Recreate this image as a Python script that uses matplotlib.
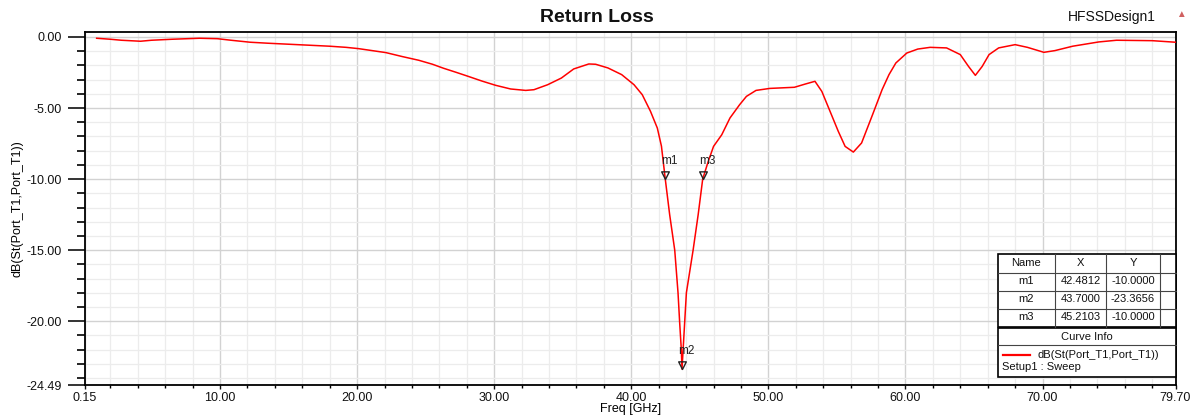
import numpy as np
import matplotlib
matplotlib.use('Agg')
import matplotlib.pyplot as plt
from matplotlib.path import Path
from matplotlib.patches import Rectangle
from matplotlib.lines import Line2D

plt.rcParams['font.family'] = ['Liberation Sans', 'DejaVu Sans']

# S11 (GHz, dB)
freq = [1.0, 2.0, 2.8, 4.2, 5.0, 6.5, 8.5, 9.8, 10.8, 12.2, 13.5, 15.0, 16.5, 18.0,
        19.2, 20.1, 21.1, 22.1, 23.3, 24.5, 25.5, 26.3, 27.2, 28.1, 29.1, 30.1, 31.2,
        32.3, 32.9, 33.9, 34.9, 35.8, 36.9, 37.4, 38.3, 39.3, 40.2, 40.8, 41.4, 41.9,
        42.2, 42.48, 42.8, 43.17, 43.41, 43.53, 43.65, 43.7, 43.9, 44.02, 44.51, 44.88,
        45.21, 45.6, 46.0, 46.6, 47.2, 47.9, 48.4, 49.1, 50.1, 51.0, 51.9, 52.7, 53.4,
        53.9, 54.4, 55.1, 55.6, 56.2, 56.8, 57.6, 58.3, 58.8, 59.3, 60.1, 60.9, 61.8,
        63.0, 64.0, 64.6, 65.1, 65.6, 66.1, 66.8, 68.0, 68.9, 70.1, 70.9, 72.2, 74.1,
        75.4, 78.0, 79.7]
s11 = [-0.09, -0.16, -0.23, -0.30, -0.23, -0.16, -0.09, -0.12, -0.23, -0.37, -0.44,
       -0.51, -0.58, -0.65, -0.73, -0.82, -0.96, -1.10, -1.38, -1.64, -1.92, -2.20,
       -2.48, -2.77, -3.10, -3.40, -3.66, -3.76, -3.71, -3.36, -2.89, -2.25, -1.90,
       -1.92, -2.18, -2.65, -3.36, -4.06, -5.23, -6.41, -7.68, -10.0, -12.5, -15.0,
       -18.0, -20.1, -22.0, -23.37, -20.0, -18.0, -15.0, -12.5, -10.0, -8.8, -7.7,
       -6.88, -5.70, -4.77, -4.18, -3.76, -3.62, -3.58, -3.54, -3.31, -3.12, -3.83,
       -5.00, -6.64, -7.70, -8.10, -7.46, -5.47, -3.70, -2.65, -1.83, -1.13, -0.85,
       -0.73, -0.77, -1.24, -2.07, -2.70, -2.07, -1.24, -0.77, -0.54, -0.73, -1.08,
       -0.96, -0.65, -0.35, -0.23, -0.26, -0.37]

marker_names = ['m1', 'm2', 'm3']
marker_x = [42.4812, 43.7000, 45.2103]
marker_y = [-10.0, -23.3656, -10.0]

xticks = [0.15, 10, 20, 30, 40, 50, 60, 70, 79.70]
yticks = [0.0, -5.0, -10.0, -15.0, -20.0, -24.49]

W, H = 1198, 416
fig = plt.figure(figsize=(W / 100, H / 100), dpi=100)
ax = fig.add_axes([85 / W, 1 - 385 / H, (1175.5 - 85) / W, (385 - 32) / H])


def P(x, y):
    return x / W, 1 - y / H


ax.plot(freq, s11, color='#ff0000', lw=1.1, zorder=3)

# hollow down-triangles with the apex on the point
tri = Path([(-0.5, 1.0), (0.5, 1.0), (0.0, 0.0), (-0.5, 1.0)],
           [Path.MOVETO, Path.LINETO, Path.LINETO, Path.CLOSEPOLY])
ax.plot(marker_x, marker_y, ls='none', marker=tri, ms=11, mfc='none',
        mec='#222222', mew=1.0, zorder=4)
for name, mx, my in zip(marker_names, marker_x, marker_y):
    ax.annotate(name, (mx, my), xytext=(3, 9), textcoords='offset points',
                ha='center', va='bottom', fontsize=8.5, color='#222222', zorder=5)

ax.set_xlim(0.15, 79.70)
ax.set_ylim(-24.49, 0.35)
ax.set_xticks(xticks)
ax.set_xticklabels(['%.2f' % v for v in xticks])
ax.set_xticks([v for v in range(2, 80, 2) if v % 10], minor=True)
ax.set_yticks(yticks)
ax.set_yticklabels(['%.2f' % v for v in yticks])
ax.set_yticks(np.arange(-24, 1, 1), minor=True)

ax.grid(which='minor', color='#ececec', lw=0.9)
ax.grid(which='major', color='#d2d2d2', lw=1.0)
ax.set_axisbelow(True)
ax.tick_params(axis='y', which='major', length=12, width=1.2, pad=5, labelsize=9,
               colors='#111111')
ax.tick_params(axis='y', which='minor', length=6, width=1.2)
ax.tick_params(axis='x', which='major', length=3, width=1.0, pad=2, labelsize=9,
               colors='#111111')
ax.tick_params(axis='x', which='minor', length=2, width=1.0)
for s in ax.spines.values():
    s.set_linewidth(1.3)

ax.set_xlabel('Freq [GHz]', fontsize=9, labelpad=-1)
ax.set_ylabel('dB(St(Port_T1,Port_T1))', fontsize=9, labelpad=2)

fig.text(*P(597, 17), 'Return Loss', ha='center', va='center', fontsize=14,
         fontweight='bold', color='#111111')
fig.text(*P(1112, 17), 'HFSSDesign1', ha='center', va='center', fontsize=10,
         color='#111111')
fig.text(*P(1181, 14), '\u25b2', ha='center', va='center', fontsize=7,
         color='#d06060')

# marker table
tf = fig.transFigure
x0, x1 = 998, 1176
col = [998, 1055, 1106, 1160]
rows = [254, 272.5, 290.5, 308.5, 326.5]
fig.add_artist(Rectangle(P(x0, rows[-1]), (x1 - x0) / W, (rows[-1] - rows[0]) / H,
                         transform=tf, fc='white', ec='black', lw=1.2, zorder=5))
for yy in rows[1:-1]:
    fig.add_artist(Line2D([x0 / W, x1 / W], [1 - yy / H] * 2, transform=tf,
                          color='#444444', lw=0.8, zorder=6))
for xx in col[1:]:
    fig.add_artist(Line2D([xx / W] * 2, [1 - rows[0] / H, 1 - rows[-1] / H],
                          transform=tf, color='#444444', lw=0.8, zorder=6))
cells = [['Name', 'X', 'Y']] + [[n, '%.4f' % mx, '%.4f' % my]
                                 for n, mx, my in zip(marker_names, marker_x, marker_y)]
for r, row in enumerate(cells):
    yc = (rows[r] + rows[r + 1]) / 2
    for c, txt in enumerate(row):
        xc = (col[c] + col[c + 1]) / 2
        fig.text(*P(xc, yc), txt, ha='center', va='center', fontsize=8,
                 color='#111111', zorder=7)

# curve info box
fig.add_artist(Rectangle(P(x0, 377), (x1 - x0) / W, (377 - 328) / H, transform=tf,
                         fc='white', ec='black', lw=1.2, zorder=5))
fig.add_artist(Line2D([x0 / W, x1 / W], [1 - 345 / H] * 2, transform=tf,
                      color='#444444', lw=0.8, zorder=6))
fig.text(*P(1087, 336.5), 'Curve Info', ha='center', va='center', fontsize=8,
         color='#111111', zorder=7)
fig.add_artist(Line2D([1003 / W, 1030 / W], [1 - 355 / H] * 2, transform=tf,
                      color='#ff0000', lw=1.6, zorder=6))
fig.text(*P(1037, 355), 'dB(St(Port_T1,Port_T1))', ha='left', va='center',
         fontsize=8, color='#111111', zorder=7)
fig.text(*P(1002, 367), 'Setup1 : Sweep', ha='left', va='center', fontsize=8,
         color='#111111', zorder=7)

fig.savefig('out.png', dpi=100)
